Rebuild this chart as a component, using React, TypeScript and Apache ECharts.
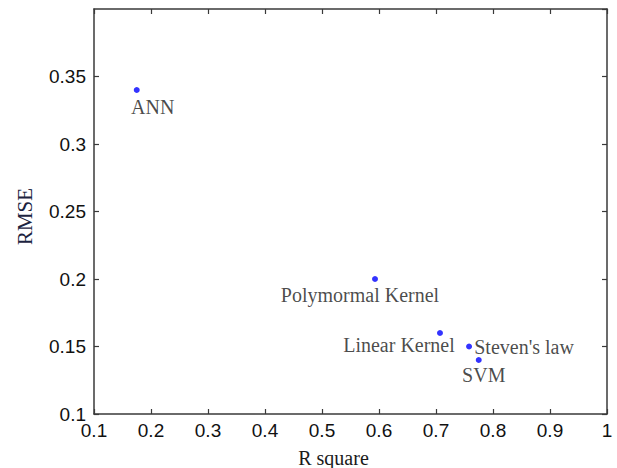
import React, { useEffect, useRef } from "react";
import * as echarts from "echarts";

const methods = ["ANN", "Polymormal Kernel", "Linear Kernel", "Steven's law", "SVM"];
const rSquare = [0.175, 0.593, 0.707, 0.758, 0.775];
const rmse = [0.34, 0.2, 0.16, 0.15, 0.14];
const labelOffsets: [number, number][] = [
  [16, 17],
  [-15, 16],
  [-41, 12],
  [55, 0],
  [5, 15],
];

const axisColor = "#3a3a3a";

export default function App() {
  const ref = useRef<HTMLDivElement>(null);
  useEffect(() => {
    if (!ref.current) return;
    const chart = echarts.init(ref.current, undefined, { renderer: "svg" });
    const data = methods.map((m, i) => ({
      name: m,
      value: [rSquare[i], rmse[i]],
      label: { offset: labelOffsets[i] },
    }));
    const tickLine = { show: true, inside: true, length: 5, lineStyle: { color: axisColor, width: 1.2 } };
    const axisLine = { show: true, onZero: false, lineStyle: { color: axisColor, width: 1.5 } };
    chart.setOption({
      animation: false,
      backgroundColor: "#ffffff",
      grid: {
        left: 94,
        right: 10,
        top: 9,
        bottom: 54,
        containLabel: false,
        outerBoundsMode: "none",
      },
      xAxis: [
        {
          type: "value",
          min: 0.1,
          max: 1,
          interval: 0.1,
          position: "bottom",
          axisLine,
          axisTick: tickLine,
          splitLine: { show: false },
          axisLabel: {
            margin: 7,
            color: "#111",
            fontFamily: "Liberation Sans",
            fontSize: 19,
            formatter: (v: number) => String(parseFloat(v.toFixed(2))),
          },
          name: "R square",
          nameLocation: "middle",
          nameGap: 34,
          nameTextStyle: {
            fontFamily: "Liberation Serif",
            fontSize: 20,
            color: "#1a1a1a",
            padding: [0, 34, 0, 0],
          },
        },
        {
          type: "value",
          min: 0.1,
          max: 1,
          interval: 0.1,
          position: "top",
          axisLine,
          axisTick: tickLine,
          splitLine: { show: false },
          axisLabel: { show: false },
        },
      ],
      yAxis: [
        {
          type: "value",
          min: 0.1,
          max: 0.4,
          interval: 0.05,
          position: "left",
          axisLine,
          axisTick: tickLine,
          splitLine: { show: false },
          axisLabel: {
            margin: 8,
            color: "#111",
            fontFamily: "Liberation Sans",
            fontSize: 19,
            showMaxLabel: false,
            formatter: (v: number) => String(parseFloat(v.toFixed(2))),
          },
          name: "RMSE",
          nameLocation: "middle",
          nameGap: 59,
          nameTextStyle: {
            fontFamily: "Liberation Serif",
            fontSize: 21,
            color: "#1c2340",
            padding: [0, 10, 0, 0],
          },
        },
        {
          type: "value",
          min: 0.1,
          max: 0.4,
          interval: 0.05,
          position: "right",
          axisLine,
          axisTick: tickLine,
          splitLine: { show: false },
          axisLabel: { show: false },
        },
      ],
      series: [
        {
          type: "scatter",
          xAxisIndex: 0,
          yAxisIndex: 0,
          symbol: "circle",
          symbolSize: 6,
          itemStyle: { color: "#0000ff" },
          data,
          label: {
            show: true,
            position: "inside",
            align: "center",
            verticalAlign: "middle",
            formatter: (p: any) => p.name,
            fontFamily: "Liberation Serif",
            fontSize: 20,
            color: "#1a1a1a",
          },
        },
      ],
    });
    return () => chart.dispose();
  }, []);
  return (
    <div
      ref={ref}
      style={{ position: "fixed", left: 0, top: 0, width: 617, height: 468 }}
    />
  );
}
